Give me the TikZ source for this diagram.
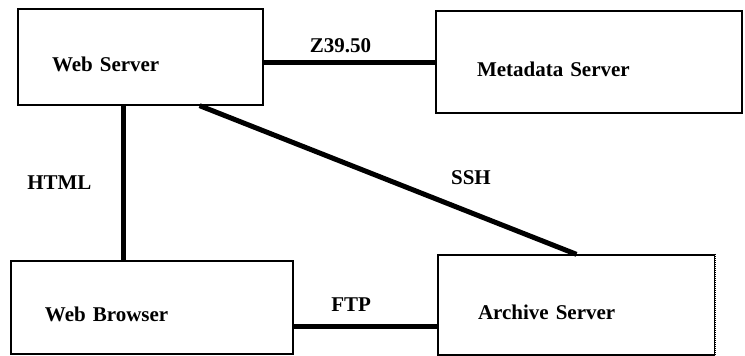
\documentclass[tikz,border=0pt]{standalone}
\usepackage{fontspec}
\setmainfont{Liberation Serif}
\usetikzlibrary{positioning,calc}

\begin{document}
\begin{tikzpicture}[x=1pt, y=-1pt, font=\fontsize{21}{25}\selectfont\bfseries,
  srvbox/.style={draw, line width=1.3pt, rectangle, align=left, inner ysep=0pt,
    text height=30pt, text depth=2pt},
  link/.style={line width=5pt}]
\useasboundingbox (0,0) rectangle (745,356);
\node[srvbox, minimum width=245, minimum height=96, inner xsep=34pt, text width=177pt] (web) at (140.5,57) {Web Server};
\node[srvbox, minimum width=306, minimum height=102, inner xsep=41pt, text width=224pt] (meta) at (589,62) {Metadata Server};
\node[srvbox, minimum width=282, minimum height=93, inner xsep=34pt, text width=214pt] (browser) at (152,307.5) {Web Browser};
\node[srvbox, minimum width=277, minimum height=100, inner xsep=40pt, text width=197pt] (archive) at (576.5,305) {Archive Server};
\draw[white, line width=2pt] (archive.north east) -- (archive.south east);
\draw[densely dotted, line width=1pt] (archive.north east) -- (archive.south east);
% links
\draw[link] (meta.west) -- (meta.west -| web.east) node[midway, above=3pt, xshift=-9pt] {Z39.50};
\coordinate (webdown) at ($(web.south west)!0.43!(web.south east)$);
\draw[link] (webdown) -- (webdown |- browser.north) node[midway, left=26pt] {HTML};
\coordinate (webssh) at ($(web.south west)!0.74!(web.south east)$);
\draw[link] (webssh) -- (archive.north) node[pos=0.72, above=22pt] {SSH};
\draw[link] ([yshift=-19pt]browser.east) -- ([yshift=-19pt]browser.east -| archive.west) node[pos=0.4, above=9pt] {FTP};
\end{tikzpicture}
\end{document}
